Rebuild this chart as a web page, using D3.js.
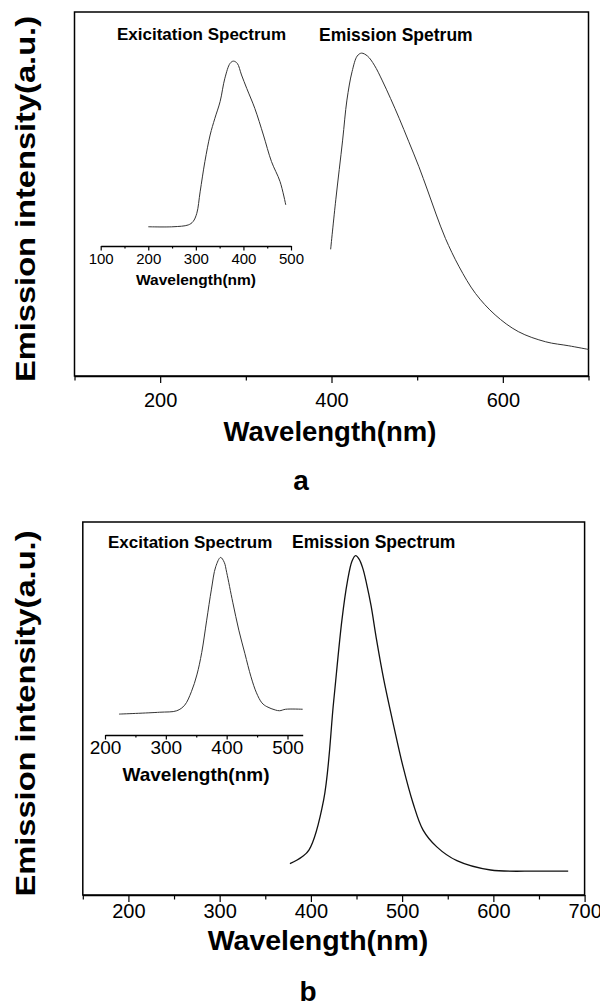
<!DOCTYPE html>
<html>
<head>
<meta charset="utf-8">
<script src="https://cdnjs.cloudflare.com/ajax/libs/d3/7.8.5/d3.min.js"></script>
<style>
  body { margin: 0; background: #fff; }
  svg { display: block; font-family: "Liberation Sans", Arial, sans-serif; }
</style>
</head>
<body>
<svg></svg>
<script>
// Panel a: excitation (inset) and emission spectra, wavelength in nm, intensity in a.u.
const excANm = [200, 252, 284, 294, 302, 309, 319, 330, 340, 351, 361, 372, 379, 387, 396, 407, 424, 442, 459, 477, 489];
const excAInt = [41.0, 41.0, 41.5, 42.4, 44.7, 50.6, 58.9, 66.2, 70.8, 75.4, 81.8, 85.9, 86.5, 85.9, 82.7, 79.0, 73.5, 66.2, 58.9, 53.4, 47.0];
const emANm = [399, 405, 413, 418, 424, 430, 435, 442, 450, 459, 469, 479, 490, 502, 512, 522, 533, 549, 568, 591, 618, 650, 677, 700];
const emAInt = [34.8, 48.4, 64.8, 75.8, 83.6, 87.9, 88.7, 87.9, 85.4, 81.3, 76.2, 70.8, 64.5, 57.5, 51.1, 44.5, 37.8, 30.0, 22.7, 16.8, 12.2, 9.4, 8.3, 7.3];

// Panel b
const excBNm = [223, 290, 318, 331, 342, 351, 359, 367, 375, 382, 390, 396, 400, 410, 420, 430, 440, 449, 458, 466, 480, 487, 497, 525];
const excBInt = [48.5, 49.0, 49.4, 50.9, 54.5, 59.0, 65.0, 73.5, 82.0, 88.0, 90.5, 89.2, 86.5, 78.5, 71.0, 64.7, 58.5, 54.2, 51.5, 50.5, 49.6, 49.4, 49.8, 49.8];
const emBNm = [377, 390, 398, 414, 425, 434, 440, 445, 449, 453, 457, 461, 466, 472, 480, 491, 501, 512, 523, 538, 560, 597, 648, 682];
const emBInt = [8.4, 10.2, 12.1, 25.5, 52.0, 73.7, 84.0, 89.5, 91.0, 90.0, 87.5, 83.5, 77.5, 68.4, 57.6, 45.1, 34.4, 24.6, 17.4, 12.9, 9.2, 6.7, 6.4, 6.4];

// Tick values
const mainATicks = [200, 400, 600];
const mainAMinor = [100, 300, 500, 700];
const insetATicks = [100, 200, 300, 400, 500];
const insetAMinor = [150, 250, 350, 450];
const mainBTicks = [200, 300, 400, 500, 600, 700];
const mainBMinor = [150, 250, 350, 450, 550, 650];
const insetBTicks = [200, 300, 400, 500];
const insetBMinor = [250, 350, 450];

const width = 600;
const height = 1007;
const svg = d3.select("svg").attr("width", width).attr("height", height);

// Draw an x axis with labelled major ticks and blank minor ticks
function drawAxis(scale, yPos, major, minor, majorSize, minorSize, pad, fontSize) {
  svg
    .append("g")
    .attr("transform", `translate(0,${yPos})`)
    .call(d3.axisBottom(scale).tickValues(minor).tickSize(minorSize).tickSizeOuter(0).tickFormat(""))
    .call((g) => g.select(".domain").remove());

  const ax = svg
    .append("g")
    .attr("transform", `translate(0,${yPos})`)
    .call(d3.axisBottom(scale).tickValues(major).tickSize(majorSize).tickSizeOuter(0).tickPadding(pad));

  svg.selectAll(".tick line").attr("stroke", "#000").attr("stroke-width", 1.2);
  ax.select(".domain").attr("stroke", "#000").attr("stroke-width", 1.4);
  ax.selectAll("text").attr("fill", "#000").style("font-size", fontSize + "px");
}

function addText(x, y, txt, size, anchor, rotate) {
  const t = svg
    .append("text")
    .attr("x", x)
    .attr("y", y)
    .attr("text-anchor", anchor)
    .attr("font-weight", "bold")
    .style("font-size", size + "px")
    .text(txt);
  if (rotate) t.attr("transform", `rotate(-90,${x},${y})`);
  return t;
}

function drawCurve(x, y, nm, vals, color, w) {
  const line = d3
    .line()
    .x((d) => x(d[0]))
    .y((d) => y(d[1]))
    .curve(d3.curveCatmullRom.alpha(0.5));
  svg
    .append("path")
    .datum(d3.zip(nm, vals))
    .attr("fill", "none")
    .attr("stroke", color)
    .attr("stroke-width", w)
    .attr("d", line);
}

function drawPanel(p) {
  const x = d3.scaleLinear().domain(p.xDomain).range(p.xRange);
  const y = d3.scaleLinear().domain([0, 100]).range(p.yRange);
  const xi = d3.scaleLinear().domain(p.insetDomain).range(p.insetRange);

  // Frame
  svg
    .append("rect")
    .attr("x", p.xRange[0])
    .attr("y", p.yRange[1])
    .attr("width", p.xRange[1] - p.xRange[0])
    .attr("height", p.yRange[0] - p.yRange[1])
    .attr("fill", "none")
    .attr("stroke", "#000")
    .attr("stroke-width", 1.5);

  drawAxis(x, p.yRange[0], p.major, p.minor, 7, 4.5, p.mainPad, 20);
  drawAxis(xi, p.insetY, p.insetMajor, p.insetMinor, 4.5, 2.5, p.insetPad, p.insetFont);

  drawCurve(xi, y, p.excNm, p.excInt, "#333", 1);
  drawCurve(x, y, p.emNm, p.emInt, p.emColor, p.emWidth);

  addText(p.titleX, p.titleY, "Wavelength(nm)", p.titleSize, "middle");
  addText(p.insetTitleX, p.insetTitleY, "Wavelength(nm)", p.insetTitleSize, "middle");

  // y title is stretched along the axis like the original
  addText(35, (p.yRange[0] + p.yRange[1]) / 2 + 5, "Emission intensity(a.u.)", 28, "middle", true)
    .attr("textLength", 366)
    .attr("lengthAdjust", "spacingAndGlyphs");

  addText(p.excLabel[0], p.excLabel[1], p.excLabel[2], 17, "start");
  addText(p.emLabel[0], p.emLabel[1], p.emLabel[2], 17.5, "start");
  addText(p.letter[0], p.letter[1], p.letter[2], 28, "middle");
}

drawPanel({
  xDomain: [100, 700],
  xRange: [74.5, 588.5],
  yRange: [376, 12],
  major: mainATicks,
  minor: mainAMinor,
  mainPad: 10,
  insetDomain: [100, 500],
  insetRange: [100.7, 291],
  insetY: 246,
  insetMajor: insetATicks,
  insetMinor: insetAMinor,
  insetPad: 3,
  insetFont: 15,
  excNm: excANm,
  excInt: excAInt,
  emNm: emANm,
  emInt: emAInt,
  emColor: "#333",
  emWidth: 1,
  titleX: 330,
  titleY: 441,
  titleSize: 27.5,
  insetTitleX: 196,
  insetTitleY: 285,
  insetTitleSize: 15.5,
  excLabel: [117, 40, "Exicitation Spectrum"],
  emLabel: [319, 41, "Emission Spetrum"],
  letter: [301, 490, "a"],
});

drawPanel({
  xDomain: [150, 700],
  xRange: [82.8, 584.6],
  yRange: [895, 522],
  major: mainBTicks,
  minor: mainBMinor,
  mainPad: 2,
  insetDomain: [200, 525],
  insetRange: [105, 302.7],
  insetY: 735,
  insetMajor: insetBTicks,
  insetMinor: insetBMinor,
  insetPad: 1.5,
  insetFont: 19,
  excNm: excBNm,
  excInt: excBInt,
  emNm: emBNm,
  emInt: emBInt,
  emColor: "#111",
  emWidth: 1.3,
  titleX: 318,
  titleY: 950,
  titleSize: 28.5,
  insetTitleX: 196,
  insetTitleY: 781,
  insetTitleSize: 19,
  excLabel: [108, 548, "Excitation Spectrum"],
  emLabel: [292, 548, "Emission Spectrum"],
  letter: [308, 1001, "b"],
});
</script>
</body>
</html>
